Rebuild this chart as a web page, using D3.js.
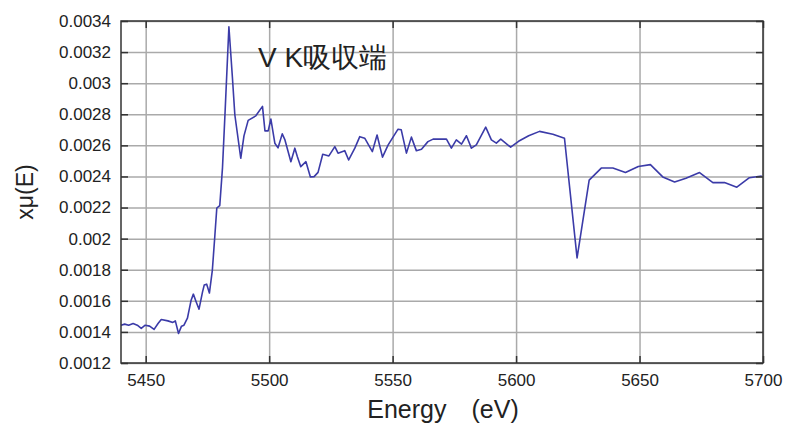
<!DOCTYPE html>
<html>
<head>
<meta charset="utf-8">
<script src="https://cdn.jsdelivr.net/npm/d3@7"></script>
<style>
  body { margin: 0; background: #fff; }
  text { font-family: "Liberation Sans", Arial, sans-serif; fill: #222; }
</style>
</head>
<body>
<div id="chart"></div>
<script>
// data
const energy = [5440, 5441.5, 5443.1, 5444.9, 5446.6, 5448.2, 5449.8, 5451.6, 5453.4, 5455.0,
  5456.3, 5459.0, 5461.0, 5462.0, 5463.3, 5464.5, 5465.5, 5466.9, 5467.4, 5468.4,
  5469.3, 5470.5, 5471.6, 5473.0, 5473.7, 5474.7, 5475.8, 5477.0, 5478.0, 5478.8,
  5480.0, 5481.1, 5482.1, 5483.7, 5485.1, 5486.1, 5488.5, 5489.8, 5491.5, 5494.6,
  5497.3, 5498.3, 5499.6, 5500.7, 5502.3, 5503.6, 5505.3, 5506.4, 5508.8, 5510.4,
  5511.4, 5512.8, 5514.9, 5516.7, 5518.2, 5519.8, 5521.7, 5524.2, 5526.6, 5527.9,
  5530.6, 5532.2, 5534.7, 5536.7, 5538.7, 5541.8, 5543.7, 5545.9, 5548.2, 5552.2,
  5553.5, 5555.6, 5557.6, 5559.6, 5561.7, 5564.3, 5566.4, 5569.1, 5571.8, 5573.8,
  5575.8, 5577.9, 5579.9, 5581.9, 5583.9, 5587.7, 5590.0, 5592.0, 5593.8, 5597.8,
  5601.0, 5605.1, 5609.5, 5614.9, 5619.6, 5624.7, 5629.6, 5634.5, 5639.2, 5644.3,
  5649.5, 5654.4, 5659.4, 5664.2, 5668.8, 5674.3, 5679.7, 5684.4, 5689.4, 5694.5,
  5699.5];
const mu = [0.001443, 0.00145, 0.001443, 0.001454, 0.001443, 0.001422, 0.001443, 0.001437, 0.001416, 0.001454,
  0.00148, 0.001471, 0.001461, 0.001471, 0.00139, 0.001437, 0.001443, 0.001488, 0.001527, 0.001604,
  0.001643, 0.001591, 0.001546, 0.001656, 0.001701, 0.001707, 0.00165, 0.001798, 0.002017, 0.002197,
  0.002213, 0.002455, 0.002797, 0.003363, 0.003041, 0.002797, 0.002517, 0.002661, 0.002761, 0.00279,
  0.002851, 0.002693, 0.002693, 0.002769, 0.002614, 0.002584, 0.002674, 0.002635, 0.002495, 0.002582,
  0.002528, 0.002463, 0.002495, 0.002397, 0.002399, 0.002426, 0.002543, 0.002532, 0.002592, 0.00255,
  0.002566, 0.002506, 0.002582, 0.002656, 0.002646, 0.00256, 0.002667, 0.002524, 0.002603, 0.002704,
  0.0027, 0.00255, 0.002653, 0.002566, 0.002575, 0.002624, 0.00264, 0.00264, 0.00264, 0.002582,
  0.002635, 0.002608, 0.002662, 0.002582, 0.002603, 0.002717, 0.002635, 0.002614, 0.00264, 0.002588,
  0.002626, 0.002662, 0.00269, 0.002672, 0.002646, 0.001876, 0.002376, 0.002454, 0.002454, 0.002426,
  0.002464, 0.002476, 0.002397, 0.002365, 0.002389, 0.002425, 0.00236, 0.002361, 0.002331, 0.002392,
  0.002403];
const xTicks = [5450, 5500, 5550, 5600, 5650, 5700];
const yTicks = [0.0012, 0.0014, 0.0016, 0.0018, 0.002, 0.0022, 0.0024, 0.0026, 0.0028, 0.003, 0.0032, 0.0034];

const W = 786, H = 425;
const margin = { top: 21, right: 23, bottom: 62, left: 121 },
  width = W - margin.left - margin.right,
  height = H - margin.top - margin.bottom;

const svg = d3.select("#chart")
  .append("svg")
  .attr("width", W)
  .attr("height", H)
  .append("g")
  .attr("transform", `translate(${margin.left},${margin.top})`);

const x = d3.scaleLinear().domain([5440, 5700]).range([0, width]);
const y = d3.scaleLinear().domain([0.0012, 0.0034]).range([height, 0]);
const fmt = d => String(+d.toFixed(4));

// grid
svg.append("g")
  .call(d3.axisLeft(y).tickValues(yTicks).tickSize(-width).tickFormat(""))
  .call(g => g.select(".domain").remove())
  .selectAll("line").attr("stroke", "#aaa").attr("stroke-width", 1.5);
svg.append("g")
  .call(d3.axisBottom(x).tickValues(xTicks).tickSize(height).tickFormat(""))
  .call(g => g.select(".domain").remove())
  .selectAll("line").attr("stroke", "#aaa").attr("stroke-width", 1.5);

// line
const pts = energy.map((e, i) => [e, mu[i]]);
svg.append("path")
  .datum(pts)
  .attr("fill", "none")
  .attr("stroke", "#3b3ba8")
  .attr("stroke-width", 1.6)
  .attr("stroke-linejoin", "round")
  .attr("d", d3.line().x(d => x(d[0])).y(d => y(d[1])));

// axes, ticks pointing inward
const tick = 7;
const styleAxis = g => {
  g.select(".domain").remove();
  g.selectAll("line").attr("stroke", "#333").attr("stroke-width", 1.5);
  g.selectAll("text").style("font-size", "17px").attr("fill", "#222");
};
svg.append("g")
  .call(d3.axisLeft(y).tickValues(yTicks).tickSize(-tick).tickPadding(10).tickFormat(fmt))
  .call(styleAxis);
svg.append("g")
  .attr("transform", `translate(${width},0)`)
  .call(d3.axisRight(y).tickValues(yTicks).tickSize(-tick).tickFormat(""))
  .call(styleAxis);
svg.append("g")
  .attr("transform", `translate(0,${height})`)
  .call(d3.axisBottom(x).tickValues(xTicks).tickSize(-tick).tickPadding(11).tickFormat(d3.format("d")))
  .call(styleAxis);
svg.append("g")
  .call(d3.axisTop(x).tickValues(xTicks).tickSize(-tick).tickFormat(""))
  .call(styleAxis);

svg.append("rect")
  .attr("width", width)
  .attr("height", height)
  .attr("fill", "none")
  .attr("stroke", "#333")
  .attr("stroke-width", 1.5);

// labels
svg.append("text")
  .attr("x", 137)
  .attr("y", 46)
  .style("font-size", "28px")
  .text("V K吸収端");

svg.append("text")
  .attr("transform", `translate(${-88},${height / 2}) rotate(-90)`)
  .attr("text-anchor", "middle")
  .style("font-size", "23px")
  .text("xμ(E)");

svg.append("text")
  .attr("x", 322)
  .attr("y", 397)
  .attr("text-anchor", "middle")
  .style("font-size", "25px")
  .text("Energy\u3000(eV)");
</script>
</body>
</html>
